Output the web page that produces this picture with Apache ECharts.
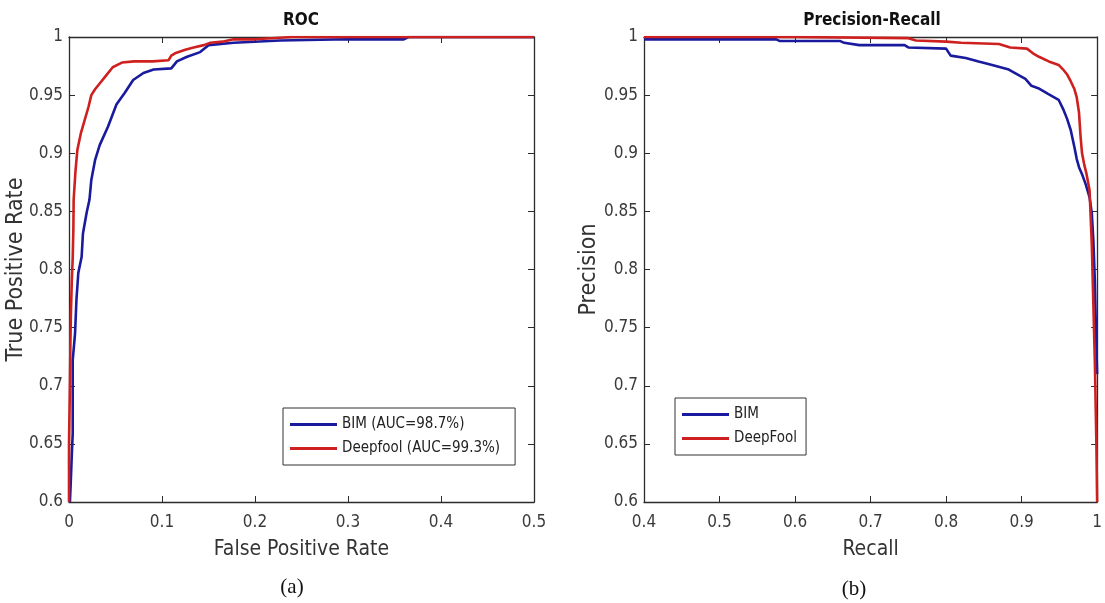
<!DOCTYPE html>
<html>
<head>
<meta charset="utf-8">
<title>ROC / Precision-Recall</title>
<script src="https://cdn.jsdelivr.net/npm/echarts@6/dist/echarts.min.js"></script>
<style>
  html, body { margin: 0; padding: 0; background: #fff; }
  #main { width: 1105px; height: 603px; }
</style>
</head>
<body>
<div id="main"></div>
<script>
// ROC curves, [false positive rate, true positive rate]
var rocBim = [
    [0.001, 0.6], [0.002, 0.619], [0.003, 0.64], [0.004, 0.659], [0.004, 0.7], [0.004, 0.722],
    [0.0065, 0.745], [0.008, 0.774], [0.010, 0.797], [0.0136, 0.811], [0.015, 0.831], [0.019, 0.849],
    [0.022, 0.86], [0.024, 0.877], [0.028, 0.894], [0.033, 0.907], [0.042, 0.923], [0.051, 0.942],
    [0.06, 0.952], [0.069, 0.963], [0.08, 0.969], [0.091, 0.972], [0.11, 0.973], [0.116, 0.979],
    [0.127, 0.983], [0.141, 0.987], [0.15, 0.993], [0.177, 0.995], [0.227, 0.997], [0.3, 0.998],
    [0.36, 0.998], [0.365, 1], [0.5, 1]
];
var rocDeepfool = [
    [0, 0.6], [0, 0.65], [0.001, 0.70], [0.0015, 0.735], [0.002, 0.76], [0.003, 0.79], [0.004, 0.81],
    [0.0047, 0.835], [0.005, 0.86], [0.007, 0.885], [0.009, 0.903], [0.013, 0.918], [0.017, 0.929],
    [0.021, 0.94], [0.024, 0.95], [0.028, 0.955], [0.033, 0.96], [0.04, 0.967], [0.047, 0.974],
    [0.052, 0.976], [0.057, 0.978], [0.07, 0.979], [0.09, 0.979], [0.107, 0.98], [0.11, 0.984],
    [0.114, 0.986], [0.125, 0.989], [0.134, 0.991], [0.145, 0.993], [0.152, 0.995], [0.165, 0.996],
    [0.177, 0.998], [0.2, 0.998], [0.24, 1], [0.5, 1]
];
// Precision-Recall curves, [recall, precision]
var prBim = [
    [0.4, 0.998], [0.575, 0.998], [0.58, 0.9965], [0.66, 0.9965], [0.665, 0.995], [0.685, 0.993],
    [0.745, 0.993], [0.75, 0.991], [0.8, 0.99], [0.806, 0.984], [0.826, 0.982], [0.843, 0.979],
    [0.861, 0.976], [0.883, 0.972], [0.905, 0.964], [0.913, 0.958], [0.922, 0.956], [0.935, 0.951],
    [0.949, 0.946], [0.955, 0.938], [0.96, 0.93], [0.965, 0.92], [0.97, 0.905], [0.973, 0.895],
    [0.976, 0.888], [0.98, 0.882], [0.985, 0.873], [0.99, 0.862], [0.993, 0.848], [0.995, 0.825],
    [0.997, 0.79], [0.998, 0.76], [0.999, 0.735], [1, 0.71]
];
var prDeepfool = [
    [0.4, 1], [0.6, 1], [0.75, 0.999], [0.76, 0.997], [0.8, 0.996], [0.82, 0.995], [0.87, 0.994],
    [0.885, 0.991], [0.907, 0.99], [0.915, 0.986], [0.923, 0.983], [0.936, 0.979], [0.949, 0.976],
    [0.955, 0.972], [0.96, 0.968], [0.965, 0.962], [0.97, 0.955], [0.973, 0.948], [0.976, 0.935],
    [0.978, 0.915], [0.98, 0.9], [0.983, 0.89], [0.986, 0.882], [0.99, 0.868], [0.993, 0.82],
    [0.995, 0.77], [0.997, 0.72], [0.999, 0.65], [1, 0.6]
];
var rocNames = ['BIM (AUC=98.7%)', 'Deepfool (AUC=99.3%)'];
var prNames = ['BIM', 'DeepFool'];

var FONT = '"DejaVu Sans Condensed", "Liberation Sans Narrow", "DejaVu Sans", sans-serif';
var SERIF = '"Liberation Serif", "DejaVu Serif", serif';
var AXC = '#2b2b2b';
var BLUE = '#1a1a9e', RED = '#cf2020';

function fmt(v) { return String(+(+v).toFixed(2)); }

function xAx(grid, min, max, name, top) {
    return {
        type: 'value', gridIndex: grid, position: top ? 'top' : 'bottom',
        min: min, max: max, interval: 0.1,
        name: top ? '' : name, nameLocation: 'middle', nameGap: 37, nameMoveOverlap: false,
        nameTextStyle: { fontFamily: FONT, fontSize: 21, color: '#333' },
        axisLine: { show: true, onZero: false, lineStyle: { color: AXC, width: 1.3 } },
        axisTick: { show: true, inside: true, length: 6, lineStyle: { color: AXC } },
        axisLabel: { show: !top, formatter: fmt, margin: 12, fontFamily: FONT, fontSize: 17, color: '#3a3a3a' },
        splitLine: { show: false }
    };
}
function yAx(grid, name, right, gap) {
    return {
        type: 'value', gridIndex: grid, position: right ? 'right' : 'left',
        min: 0.6, max: 1, interval: 0.05,
        name: right ? '' : name, nameLocation: 'middle', nameGap: gap, nameMoveOverlap: false,
        nameTextStyle: { fontFamily: FONT, fontSize: 23, color: '#333' },
        axisLine: { show: true, onZero: false, lineStyle: { color: AXC, width: 1.3 } },
        axisTick: { show: true, inside: true, length: 6, lineStyle: { color: AXC } },
        axisLabel: { show: !right, formatter: fmt, margin: 6, fontFamily: FONT, fontSize: 17, color: '#3a3a3a' },
        splitLine: { show: false }
    };
}
function curve(name, data, color, xi, yi) {
    return {
        name: name, type: 'line', data: data, xAxisIndex: xi, yAxisIndex: yi,
        symbol: 'none', color: color, lineStyle: { color: color, width: 2.6 },
        animation: false, z: color === RED ? 3 : 2
    };
}
function legendBox(names, left, top, padding) {
    return {
        data: names, orient: 'vertical', left: left, top: top, padding: padding,
        itemGap: 9, itemWidth: 47, itemHeight: 3, icon: 'rect',
        borderColor: '#333', borderWidth: 1, borderRadius: 0, backgroundColor: '#fff',
        textStyle: { fontFamily: FONT, fontSize: 15, color: '#222' },
        selectedMode: false
    };
}

var chart = echarts.init(document.getElementById('main'));
chart.setOption({
    backgroundColor: '#fff',
    animation: false,
    grid: [
        { left: 69, top: 37, width: 465, height: 465, containLabel: false },
        { left: 644, top: 37, width: 456, height: 465, containLabel: false }
    ],
    xAxis: [
        xAx(0, 0, 0.5, 'False Positive Rate', false),
        xAx(0, 0, 0.5, '', true),
        xAx(1, 0.4, 1, 'Recall', false),
        xAx(1, 0.4, 1, '', true)
    ],
    yAxis: [
        yAx(0, 'True Positive Rate', false, 41),
        yAx(0, '', true, 0),
        yAx(1, 'Precision', false, 43),
        yAx(1, '', true, 0)
    ],
    legend: [
        legendBox(rocNames, 283, 408, [9, 15, 9, 7]),
        legendBox(prNames, 675, 398, [9, 9, 9, 7])
    ],
    series: [
        curve(rocNames[0], rocBim, BLUE, 0, 0),
        curve(rocNames[1], rocDeepfool, RED, 0, 0),
        curve(prNames[0], prBim, BLUE, 2, 2),
        curve(prNames[1], prDeepfool, RED, 2, 2)
    ],
    graphic: [
        { type: 'text', x: 301, y: 21, style: { text: 'ROC', align: 'center', verticalAlign: 'middle', fontFamily: FONT, fontSize: 17, fontWeight: 'bold', fill: '#111' } },
        { type: 'text', x: 872, y: 21, style: { text: 'Precision-Recall', align: 'center', verticalAlign: 'middle', fontFamily: FONT, fontSize: 17, fontWeight: 'bold', fill: '#111' } },
        { type: 'text', x: 292, y: 587, style: { text: '(a)', align: 'center', verticalAlign: 'middle', fontFamily: SERIF, fontSize: 21, fill: '#111' } },
        { type: 'text', x: 854, y: 589, style: { text: '(b)', align: 'center', verticalAlign: 'middle', fontFamily: SERIF, fontSize: 21, fill: '#111' } }
    ]
});
</script>
</body>
</html>
